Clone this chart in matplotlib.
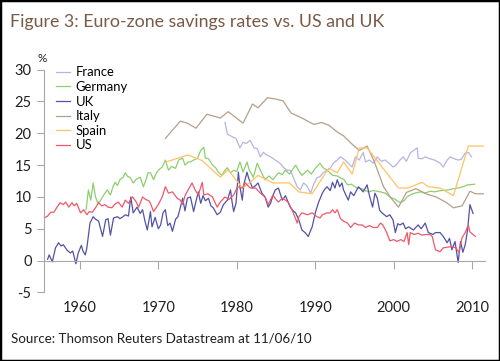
import matplotlib.pyplot as plt
from matplotlib.patches import Rectangle

plt.rcParams['font.family'] = ['Lato', 'DejaVu Sans']
plt.rcParams['axes.unicode_minus'] = False

# --- data (year, savings rate %) ---
france_years = [1978.5, 1978.8, 1979.2, 1979.5, 1979.9, 1980.4, 1980.8, 1981.2, 1981.7, 1982.2,
                1982.6, 1983.0, 1983.4, 1983.8, 1984.3, 1984.9, 1985.5, 1985.9, 1986.4, 1986.8,
                1987.2, 1987.7, 1988.1, 1988.5, 1988.9, 1989.4, 1989.8, 1990.2, 1990.6, 1991.0,
                1991.5, 1991.9, 1992.3, 1992.8, 1993.2, 1993.8, 1994.2, 1994.7, 1995.1, 1995.6,
                1996.1, 1996.4, 1996.9, 1997.4, 1997.9, 1998.4, 1998.9, 1999.4, 1999.9, 2000.3,
                2000.8, 2001.2, 2001.6, 2002.1, 2002.5, 2003.0, 2003.1, 2003.6, 2004.0, 2004.6,
                2005.2, 2005.9, 2006.3, 2006.8, 2007.2, 2007.7, 2008.2, 2008.6, 2009.1, 2009.5,
                2009.9]
france_vals = [21.7, 19.9, 19.6, 19.4, 19.2, 17.7, 18.6, 18.4, 18.9, 17.7,
               17.6, 16.3, 17.0, 16.6, 16.3, 15.8, 15.3, 14.7, 14.2, 14.2,
               13.1, 11.6, 11.1, 12.2, 11.8, 10.6, 12.0, 13.0, 13.2, 13.8,
               14.2, 14.5, 15.3, 15.8, 16.3, 15.8, 15.3, 14.7, 16.3, 15.8,
               17.0, 15.5, 15.8, 15.3, 16.3, 15.6, 15.8, 15.3, 14.7, 15.0,
               15.8, 16.3, 15.6, 16.9, 17.3, 17.7, 16.1, 16.0, 16.3, 16.0,
               15.8, 15.3, 14.7, 15.8, 16.3, 16.0, 15.8, 15.9, 16.9, 17.0,
               16.3]

germany_years = [1960.8, 1961.1, 1961.4, 1961.7, 1962.0, 1962.3, 1962.6, 1963.0, 1963.5, 1963.9,
                 1964.2, 1964.5, 1964.8, 1965.1, 1965.5, 1965.8, 1966.1, 1966.4, 1966.8, 1967.2,
                 1967.7, 1968.1, 1968.4, 1968.7, 1969.0, 1969.4, 1969.7, 1970.0, 1970.5, 1970.9,
                 1971.3, 1971.7, 1972.2, 1972.6, 1973.1, 1973.4, 1973.8, 1974.1, 1974.5, 1975.0,
                 1975.4, 1975.8, 1976.0, 1976.4, 1976.9, 1977.3, 1977.7, 1978.1, 1978.5, 1978.8,
                 1979.2, 1979.6, 1980.0, 1980.4, 1980.8, 1981.3, 1981.6, 1982.1, 1982.6, 1983.0,
                 1983.6, 1984.1, 1984.6, 1985.3, 1985.8, 1986.2, 1986.7, 1987.5, 1987.9, 1988.3,
                 1989.0, 1989.5, 1990.0, 1990.6, 1991.0, 1991.5, 1992.2, 1992.8, 1993.2, 1993.6,
                 1994.1, 1994.6, 1995.3, 1995.9, 1996.7, 1997.4, 1998.3, 1998.9, 1999.5, 2000.2,
                 2000.8, 2001.3, 2001.7, 2002.2, 2002.7, 2003.4, 2004.0, 2004.6, 2005.2, 2006.0,
                 2006.9, 2007.6, 2008.2, 2008.8, 2009.4, 2010.3]
germany_vals = [8.0, 11.1, 9.5, 12.2, 10.0, 9.0, 9.4, 10.2, 11.1, 10.3,
                11.5, 12.3, 11.8, 12.7, 13.1, 13.8, 13.2, 13.1, 12.2, 12.8,
                13.1, 11.6, 12.6, 13.8, 13.8, 12.7, 13.6, 14.2, 14.7, 15.8,
                14.2, 14.8, 14.5, 15.8, 16.1, 15.0, 15.5, 15.5, 15.8, 16.1,
                17.3, 17.8, 16.1, 16.0, 15.0, 14.6, 13.8, 13.4, 14.2, 14.6,
                13.8, 14.2, 14.0, 15.5, 13.9, 15.5, 14.2, 13.1, 15.3, 14.2,
                12.7, 13.3, 12.7, 13.8, 13.5, 14.2, 13.6, 15.0, 14.1, 13.4,
                14.2, 13.6, 14.5, 15.3, 14.6, 14.2, 13.4, 13.3, 13.0, 12.8,
                11.9, 12.0, 11.4, 11.3, 10.8, 11.0, 10.8, 10.6, 10.0, 9.6,
                9.1, 9.4, 10.0, 10.4, 10.6, 10.8, 10.6, 10.9, 10.8, 11.0,
                11.1, 11.3, 11.4, 11.6, 11.9, 12.0]

uk_years = [1955.9, 1956.1, 1956.5, 1956.9, 1957.3, 1957.6, 1957.9, 1958.4, 1958.8, 1959.1,
            1959.5, 1959.8, 1960.2, 1960.4, 1960.7, 1960.9, 1961.3, 1961.7, 1962.0, 1962.4,
            1962.9, 1963.3, 1963.6, 1963.9, 1964.3, 1964.8, 1965.1, 1965.4, 1965.8, 1966.2,
            1966.5, 1966.8, 1967.3, 1967.7, 1968.0, 1968.3, 1968.6, 1969.0, 1969.2, 1969.6,
            1970.0, 1970.3, 1970.6, 1970.9, 1971.2, 1971.5, 1971.8, 1972.2, 1972.5, 1972.8,
            1973.1, 1973.4, 1973.7, 1974.1, 1974.5, 1974.8, 1975.1, 1975.4, 1975.7, 1976.0,
            1976.4, 1976.7, 1977.0, 1977.5, 1977.9, 1978.3, 1978.8, 1979.2, 1979.4, 1979.6,
            1979.9, 1980.2, 1980.4, 1980.7, 1980.9, 1981.3, 1981.5, 1982.0, 1982.4, 1982.7,
            1983.2, 1983.6, 1984.0, 1984.3, 1984.6, 1984.9, 1985.3, 1985.8, 1986.2, 1986.8,
            1987.2, 1987.5, 1987.9, 1988.3, 1988.7, 1989.1, 1989.6, 1990.0, 1990.4, 1990.9,
            1991.2, 1991.5, 1991.9, 1992.2, 1992.5, 1992.8, 1993.1, 1993.4, 1993.6, 1994.2,
            1994.5, 1994.9, 1995.5, 1996.1, 1996.6, 1996.9, 1997.3, 1997.6, 1997.9, 1998.2,
            1998.5, 1999.1, 1999.5, 1999.9, 2000.2, 2000.5, 2000.8, 2001.2, 2001.5, 2001.9,
            2002.5, 2003.1, 2003.5, 2004.0, 2004.4, 2005.0, 2005.3, 2005.9, 2006.3, 2006.8,
            2007.1, 2007.4, 2007.8, 2008.2, 2008.5, 2008.8, 2009.1, 2009.4, 2009.7, 2010.1]
uk_vals = [0.2, 0.9, -0.2, 2.0, 2.8, 2.3, 2.5, 1.6, 1.2, 1.5,
           -0.5, 1.2, 2.4, 1.5, 0.9, 2.0, 5.9, 6.9, 6.5, 6.2,
           3.8, 6.4, 6.6, 4.0, 6.7, 6.9, 6.6, 6.8, 7.2, 7.0,
           10.0, 7.5, 8.4, 7.4, 8.0, 6.2, 4.8, 7.7, 5.3, 6.8,
           5.0, 5.6, 7.5, 8.0, 5.5, 5.9, 4.6, 6.5, 6.9, 8.3,
           9.8, 7.8, 9.8, 10.0, 7.7, 9.3, 10.8, 9.0, 10.2, 9.4,
           9.8, 8.6, 8.3, 7.2, 7.6, 8.8, 9.5, 11.1, 9.2, 7.7,
           9.0, 13.9, 11.6, 9.5, 12.0, 13.9, 13.0, 11.4, 11.8, 12.2,
           10.6, 10.0, 8.4, 9.0, 10.2, 11.1, 11.4, 9.5, 10.2, 8.4,
           7.8, 7.5, 6.4, 4.8, 4.4, 3.8, 5.3, 7.5, 9.1, 10.6,
           11.2, 11.6, 11.0, 12.3, 11.4, 12.7, 11.6, 12.2, 11.1, 9.5,
           10.8, 10.2, 11.6, 10.8, 11.9, 10.2, 8.4, 10.6, 9.8, 7.9,
           7.5, 6.9, 7.2, 6.4, 4.4, 5.8, 5.6, 5.9, 5.0, 5.3,
           4.8, 5.6, 5.0, 5.9, 4.4, 4.1, 4.4, 4.4, 3.8, 2.8,
           3.5, 1.7, 3.0, -0.3, 3.0, 1.3, 2.5, 4.8, 8.8, 7.4]

italy_years = [1970.9, 1972.8, 1973.7, 1974.8, 1976.2, 1977.9, 1978.9, 1980.8, 1982.0, 1982.7,
               1983.9, 1984.9, 1985.9, 1986.9, 1988.3, 1989.8, 1990.8, 1991.7, 1992.8, 1993.6,
               1994.6, 1995.6, 1996.6, 1997.5, 1998.7, 1999.6, 2000.6, 2001.6, 2002.8, 2004.3,
               2005.4, 2006.6, 2007.6, 2008.7, 2009.7, 2010.4, 2011.4]
italy_vals = [19.2, 21.9, 21.6, 20.8, 23.0, 22.4, 23.4, 21.6, 24.6, 24.0,
              25.6, 25.4, 25.1, 23.2, 22.4, 21.4, 21.7, 21.3, 20.2, 19.6,
              18.4, 17.3, 18.0, 15.6, 11.6, 9.9, 8.4, 10.7, 11.3, 10.4,
              10.0, 9.2, 8.3, 8.6, 10.9, 10.5, 10.5]

spain_years = [1971.0, 1973.8, 1975.6, 1977.9, 1978.9, 1980.7, 1981.7, 1982.7, 1984.6, 1986.7,
               1987.9, 1989.6, 1991.7, 1992.8, 1993.6, 1994.7, 1995.6, 1996.6, 2000.6, 2001.8,
               2003.6, 2004.4, 2005.9, 2007.6, 2009.5, 2011.4]
spain_vals = [15.5, 16.6, 15.7, 13.1, 14.3, 11.4, 12.3, 13.4, 12.2, 12.2,
              10.8, 10.5, 14.5, 13.8, 15.5, 13.6, 17.7, 17.7, 11.4, 11.4,
              12.3, 11.6, 11.4, 10.2, 18.0, 18.0]

us_years = [1955.6, 1955.9, 1956.3, 1956.7, 1957.1, 1957.5, 1957.9, 1958.2, 1958.6, 1959.0,
            1959.3, 1959.6, 1960.1, 1960.5, 1960.9, 1961.2, 1961.6, 1962.0, 1962.4, 1962.8,
            1963.2, 1963.6, 1964.1, 1964.5, 1964.9, 1965.4, 1965.8, 1966.2, 1966.7, 1967.1,
            1967.5, 1968.0, 1968.4, 1968.8, 1969.0, 1969.4, 1970.0, 1970.5, 1970.9, 1971.3,
            1971.8, 1972.4, 1972.8, 1973.1, 1973.4, 1973.8, 1974.3, 1974.7, 1975.1, 1975.6,
            1975.8, 1976.3, 1976.9, 1977.5, 1977.9, 1978.5, 1979.0, 1979.6, 1980.1, 1980.7,
            1981.1, 1981.7, 1982.4, 1983.0, 1983.6, 1984.0, 1984.6, 1985.0, 1985.3, 1985.8,
            1986.2, 1986.6, 1987.2, 1987.7, 1987.9, 1988.3, 1989.0, 1989.6, 1990.2, 1990.6,
            1990.9, 1991.5, 1991.9, 1992.2, 1992.5, 1992.8, 1993.2, 1993.6, 1994.1, 1994.5,
            1995.0, 1995.5, 1996.0, 1996.4, 1996.9, 1997.4, 1997.9, 1998.3, 1998.6, 1999.1,
            1999.5, 2000.0, 2000.4, 2000.9, 2001.3, 2001.7, 2001.9, 2002.1, 2002.6, 2003.1,
            2003.6, 2004.1, 2004.6, 2004.9, 2005.3, 2005.9, 2006.3, 2006.8, 2007.4, 2007.9,
            2008.3, 2008.7, 2009.1, 2009.5, 2009.7, 2010.1, 2010.4]
us_vals = [6.8, 7.0, 7.6, 7.6, 8.4, 9.1, 8.8, 9.2, 8.4, 9.1,
           8.6, 9.0, 7.5, 8.0, 7.2, 7.7, 7.6, 8.3, 9.1, 8.6,
           8.8, 8.4, 8.3, 8.9, 9.2, 8.4, 9.5, 9.0, 10.0, 9.4,
           8.4, 10.0, 9.6, 9.4, 9.0, 7.7, 8.8, 10.0, 11.6, 10.6,
           10.8, 9.8, 9.5, 8.8, 10.2, 11.1, 12.2, 11.1, 10.3, 12.3,
           10.3, 10.5, 10.0, 8.4, 9.2, 10.0, 9.6, 10.3, 11.6, 11.4,
           12.2, 11.4, 11.4, 10.6, 10.0, 8.8, 10.3, 9.6, 9.2, 9.8,
           9.5, 9.1, 7.5, 5.9, 6.9, 7.5, 7.2, 7.5, 6.9, 6.7,
           7.2, 7.5, 7.5, 8.0, 7.5, 8.0, 6.6, 6.2, 5.9, 5.2,
           5.9, 5.6, 5.6, 5.2, 5.5, 5.2, 5.2, 5.9, 5.6, 4.4,
           3.1, 3.3, 3.0, 3.3, 3.0, 4.4, 2.5, 4.4, 4.1, 4.3,
           4.0, 4.1, 4.1, 3.8, 1.7, 1.4, 2.0, 2.1, 2.2, 2.0,
           1.3, 3.6, 4.4, 5.6, 4.5, 4.1, 3.8]

year_ticks = [1960, 1970, 1980, 1990, 2000, 2010]
rate_ticks = [-5, 0, 5, 10, 15, 20, 25, 30]

fig = plt.figure(figsize=(5, 3.61), dpi=100)
ax = fig.add_axes([0.088, 0.19, 0.882, 0.617])

lw = 0.9
ax.plot(france_years, france_vals, color='#b5b5e2', lw=lw, label='France')
ax.plot(germany_years, germany_vals, color='#8ccf6f', lw=lw, label='Germany')
ax.plot(uk_years, uk_vals, color='#5252a6', lw=lw, label='UK')
ax.plot(italy_years, italy_vals, color='#b3a08a', lw=lw, label='Italy')
ax.plot(spain_years, spain_vals, color='#ffc266', lw=lw, label='Spain')
ax.plot(us_years, us_vals, color='#f0586a', lw=lw, label='US')

ax.set_xlim(1955.44, 2011.62)
ax.set_ylim(-5, 30)
ax.set_xticks(year_ticks)
ax.set_yticks(rate_ticks)

# axis cosmetics: light grey spines, x axis sits on zero
grey = '#a8a8a8'
for s in ['top', 'right']:
    ax.spines[s].set_visible(False)
ax.spines['left'].set_color(grey)
ax.spines['bottom'].set_color(grey)
ax.spines['bottom'].set_position(('data', 0))
ax.tick_params(axis='both', colors=grey, labelcolor='#231f20', labelsize=10.5, width=0.8)
ax.tick_params(axis='x', length=6, pad=23)
ax.tick_params(axis='y', length=5, pad=4)

ax.legend(loc='upper left', bbox_to_anchor=(0.112, 0.816), bbox_transform=fig.transFigure,
          frameon=False, fontsize=9.4, handlelength=1.05, handletextpad=0.45,
          labelspacing=0.2, borderpad=0, borderaxespad=0)

fig.text(0.084, 0.839, '%', fontsize=8.5, ha='center', va='center', color='#231f20')
fig.text(0.02, 0.925, 'Figure 3: Euro-zone savings rates vs. US and UK',
         fontsize=12.8, color='#7a5a46', ha='left', va='baseline')
fig.text(0.022, 0.051, 'Source: Thomson Reuters Datastream at 11/06/10',
         fontsize=9.6, color='#231f20', ha='left', va='baseline')

fig.add_artist(Rectangle((0, 0), 1, 1, transform=fig.transFigure, fill=False,
                         lw=2.5, ec='black'))

fig.savefig('out.png', dpi=100)
